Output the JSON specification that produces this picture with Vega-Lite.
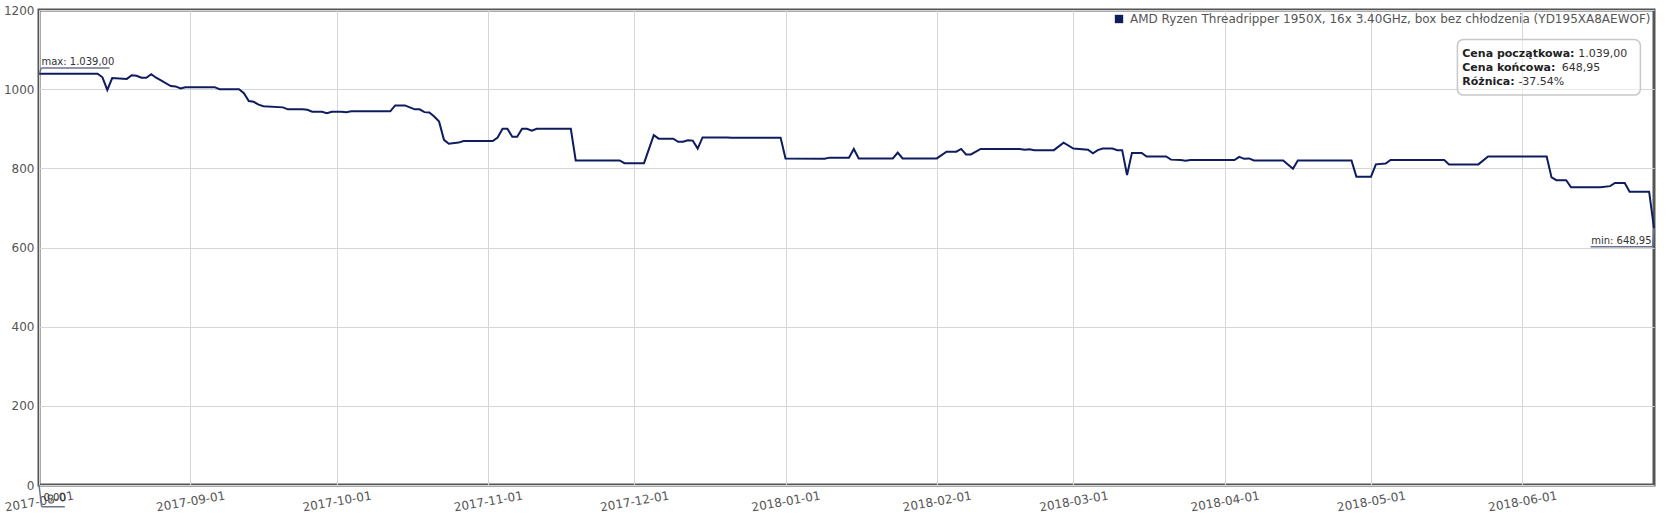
{
  "$schema": "https://vega.github.io/schema/vega-lite/v6.json",
  "width": 1615,
  "height": 475,
  "autosize": "none",
  "padding": {"left": 39, "top": 10, "right": 20, "bottom": 33},
  "background": "white",
  "datasets": {
    "prices": [
      {"date": "2017-08-01", "value": 1039},
      {"date": "2017-08-13", "value": 1039},
      {"date": "2017-08-14", "value": 1030},
      {"date": "2017-08-15", "value": 998},
      {"date": "2017-08-16", "value": 1028},
      {"date": "2017-08-19", "value": 1026},
      {"date": "2017-08-20", "value": 1035},
      {"date": "2017-08-21", "value": 1034},
      {"date": "2017-08-22", "value": 1029},
      {"date": "2017-08-23", "value": 1029},
      {"date": "2017-08-24", "value": 1038},
      {"date": "2017-08-25", "value": 1029},
      {"date": "2017-08-26", "value": 1022},
      {"date": "2017-08-28", "value": 1008},
      {"date": "2017-08-29", "value": 1007},
      {"date": "2017-08-30", "value": 1002},
      {"date": "2017-08-31", "value": 1005},
      {"date": "2017-09-06", "value": 1005},
      {"date": "2017-09-07", "value": 1000},
      {"date": "2017-09-11", "value": 1000},
      {"date": "2017-09-12", "value": 990},
      {"date": "2017-09-13", "value": 970},
      {"date": "2017-09-14", "value": 968},
      {"date": "2017-09-15", "value": 961},
      {"date": "2017-09-16", "value": 957},
      {"date": "2017-09-20", "value": 954},
      {"date": "2017-09-21", "value": 949},
      {"date": "2017-09-24", "value": 949},
      {"date": "2017-09-25", "value": 948},
      {"date": "2017-09-26", "value": 943},
      {"date": "2017-09-28", "value": 943},
      {"date": "2017-09-29", "value": 939},
      {"date": "2017-09-30", "value": 943},
      {"date": "2017-10-02", "value": 943},
      {"date": "2017-10-03", "value": 942},
      {"date": "2017-10-04", "value": 944},
      {"date": "2017-10-12", "value": 944},
      {"date": "2017-10-13", "value": 959},
      {"date": "2017-10-15", "value": 959},
      {"date": "2017-10-16", "value": 954},
      {"date": "2017-10-17", "value": 949},
      {"date": "2017-10-18", "value": 949},
      {"date": "2017-10-19", "value": 942},
      {"date": "2017-10-20", "value": 941},
      {"date": "2017-10-21", "value": 931},
      {"date": "2017-10-22", "value": 918},
      {"date": "2017-10-23", "value": 872},
      {"date": "2017-10-24", "value": 862},
      {"date": "2017-10-26", "value": 865},
      {"date": "2017-10-27", "value": 869},
      {"date": "2017-11-02", "value": 869},
      {"date": "2017-11-03", "value": 878},
      {"date": "2017-11-04", "value": 900},
      {"date": "2017-11-05", "value": 900},
      {"date": "2017-11-06", "value": 880},
      {"date": "2017-11-07", "value": 880},
      {"date": "2017-11-08", "value": 900},
      {"date": "2017-11-09", "value": 900},
      {"date": "2017-11-10", "value": 895},
      {"date": "2017-11-11", "value": 900},
      {"date": "2017-11-18", "value": 900},
      {"date": "2017-11-19", "value": 820},
      {"date": "2017-11-28", "value": 820},
      {"date": "2017-11-29", "value": 813},
      {"date": "2017-12-03", "value": 813},
      {"date": "2017-12-05", "value": 884},
      {"date": "2017-12-06", "value": 875},
      {"date": "2017-12-09", "value": 875},
      {"date": "2017-12-10", "value": 867},
      {"date": "2017-12-11", "value": 867},
      {"date": "2017-12-12", "value": 871},
      {"date": "2017-12-13", "value": 870},
      {"date": "2017-12-14", "value": 850},
      {"date": "2017-12-15", "value": 878},
      {"date": "2017-12-20", "value": 878},
      {"date": "2017-12-21", "value": 877},
      {"date": "2017-12-31", "value": 877},
      {"date": "2018-01-01", "value": 825},
      {"date": "2018-01-09", "value": 824},
      {"date": "2018-01-10", "value": 827},
      {"date": "2018-01-14", "value": 827},
      {"date": "2018-01-15", "value": 849},
      {"date": "2018-01-16", "value": 825},
      {"date": "2018-01-23", "value": 825},
      {"date": "2018-01-24", "value": 840},
      {"date": "2018-01-25", "value": 825},
      {"date": "2018-02-01", "value": 825},
      {"date": "2018-02-03", "value": 842},
      {"date": "2018-02-05", "value": 842},
      {"date": "2018-02-06", "value": 849},
      {"date": "2018-02-07", "value": 835},
      {"date": "2018-02-08", "value": 835},
      {"date": "2018-02-10", "value": 849},
      {"date": "2018-02-18", "value": 849},
      {"date": "2018-02-19", "value": 847},
      {"date": "2018-02-20", "value": 848},
      {"date": "2018-02-21", "value": 846},
      {"date": "2018-02-25", "value": 846},
      {"date": "2018-02-27", "value": 865},
      {"date": "2018-03-01", "value": 850},
      {"date": "2018-03-04", "value": 847},
      {"date": "2018-03-05", "value": 838},
      {"date": "2018-03-06", "value": 846},
      {"date": "2018-03-07", "value": 850},
      {"date": "2018-03-09", "value": 850},
      {"date": "2018-03-10", "value": 846},
      {"date": "2018-03-11", "value": 846},
      {"date": "2018-03-12", "value": 783},
      {"date": "2018-03-13", "value": 839},
      {"date": "2018-03-15", "value": 839},
      {"date": "2018-03-16", "value": 830},
      {"date": "2018-03-20", "value": 830},
      {"date": "2018-03-21", "value": 822},
      {"date": "2018-03-23", "value": 821},
      {"date": "2018-03-24", "value": 819},
      {"date": "2018-03-25", "value": 821},
      {"date": "2018-04-03", "value": 821},
      {"date": "2018-04-04", "value": 829},
      {"date": "2018-04-05", "value": 824},
      {"date": "2018-04-06", "value": 825},
      {"date": "2018-04-07", "value": 820},
      {"date": "2018-04-13", "value": 820},
      {"date": "2018-04-15", "value": 799},
      {"date": "2018-04-16", "value": 820},
      {"date": "2018-04-27", "value": 820},
      {"date": "2018-04-28", "value": 779},
      {"date": "2018-05-01", "value": 779},
      {"date": "2018-05-02", "value": 810},
      {"date": "2018-05-04", "value": 812},
      {"date": "2018-05-05", "value": 821},
      {"date": "2018-05-16", "value": 821},
      {"date": "2018-05-17", "value": 810},
      {"date": "2018-05-23", "value": 810},
      {"date": "2018-05-25", "value": 830},
      {"date": "2018-06-06", "value": 830},
      {"date": "2018-06-07", "value": 777},
      {"date": "2018-06-08", "value": 770},
      {"date": "2018-06-10", "value": 770},
      {"date": "2018-06-11", "value": 752},
      {"date": "2018-06-17", "value": 752},
      {"date": "2018-06-19", "value": 755},
      {"date": "2018-06-20", "value": 763},
      {"date": "2018-06-22", "value": 763},
      {"date": "2018-06-23", "value": 741},
      {"date": "2018-06-27", "value": 741},
      {"date": "2018-06-28", "value": 648.95}
    ],
    "markers": [
      {"date": "2017-08-01T02:00:00Z", "value": 1039, "date2": "2017-08-01T11:00:00Z", "value2": 1053.6},
      {"date": "2017-08-01T11:00:00Z", "value": 1053.6, "date2": "2017-08-15T11:00:00Z", "value2": 1053.6},
      {"date": "2018-06-28T00:00:00Z", "value": 648.95, "date2": "2018-06-27T17:00:00Z", "value2": 602},
      {"date": "2018-06-15T00:00:00Z", "value": 602, "date2": "2018-06-27T17:00:00Z", "value2": 602},
      {"date": "2017-08-01T00:00:00Z", "value": 0, "date2": "2017-08-01T13:00:00Z", "value2": -55},
      {"date": "2017-08-01T13:00:00Z", "value": -55, "date2": "2017-08-06T07:00:00Z", "value2": -55}
    ],
    "notesLeft": [
      {"date": "2017-08-01T12:00:00Z", "value": 1061, "label": "max: 1.039,00"},
      {"date": "2017-08-01T22:00:00Z", "value": -40, "label": "0,00"}
    ],
    "notesRight": [
      {"date": "2018-06-27T12:00:00Z", "value": 610, "label": "min: 648,95"}
    ],
    "box": [
      {"date": "2018-05-18T17:00:00Z", "date2": "2018-06-25T05:00:00Z", "value": 985, "value2": 1125.6}
    ],
    "boxLabels": [
      {"date": "2018-05-19T17:00:00Z", "value": 1081, "label": "Cena początkowa:"},
      {"date": "2018-05-19T17:00:00Z", "value": 1046, "label": "Cena końcowa:"},
      {"date": "2018-05-19T17:00:00Z", "value": 1010.6, "label": "Różnica:"}
    ],
    "boxValues": [
      {"date": "2018-06-12T12:00:00Z", "value": 1081, "label": "1.039,00"},
      {"date": "2018-06-09T02:00:00Z", "value": 1046, "label": "648,95"},
      {"date": "2018-05-31T05:00:00Z", "value": 1010.6, "label": "-37.54%"}
    ]
  },
  "encoding": {
    "x": {
      "field": "date",
      "type": "temporal",
      "scale": {
        "type": "utc",
        "domain": [
          {"year": 2017, "month": 8, "date": 1, "utc": true},
          {"year": 2018, "month": 6, "date": 28, "utc": true}
        ]
      },
      "axis": {
        "title": null,
        "format": "%Y-%m-%d",
        "values": [
          {"year": 2017, "month": 8, "date": 1, "utc": true},
          {"year": 2017, "month": 9, "date": 1, "utc": true},
          {"year": 2017, "month": 10, "date": 1, "utc": true},
          {"year": 2017, "month": 11, "date": 1, "utc": true},
          {"year": 2017, "month": 12, "date": 1, "utc": true},
          {"year": 2018, "month": 1, "date": 1, "utc": true},
          {"year": 2018, "month": 2, "date": 1, "utc": true},
          {"year": 2018, "month": 3, "date": 1, "utc": true},
          {"year": 2018, "month": 4, "date": 1, "utc": true},
          {"year": 2018, "month": 5, "date": 1, "utc": true},
          {"year": 2018, "month": 6, "date": 1, "utc": true}
        ],
        "labelAngle": -10,
        "labelAlign": "center",
        "labelBaseline": "middle",
        "labelPadding": 16,
        "labelOverlap": false,
        "labelBound": false,
        "labelFlush": false
      }
    },
    "y": {
      "field": "value",
      "type": "quantitative",
      "scale": {"domain": [0, 1200], "nice": false, "zero": false},
      "axis": {
        "title": null,
        "format": "d",
        "values": [0, 200, 400, 600, 800, 1000, 1200],
        "labelPadding": 5
      }
    }
  },
  "layer": [
    {
      "data": {"name": "box"},
      "mark": {
        "type": "rect",
        "fill": "white",
        "fillOpacity": 0.5,
        "stroke": "#c8c8c8",
        "strokeWidth": 1.5,
        "cornerRadius": 6
      },
      "encoding": {
        "x2": {"field": "date2"},
        "y2": {"field": "value2"}
      }
    },
    {
      "data": {"name": "prices"},
      "mark": {"type": "line", "strokeWidth": 2, "interpolate": "linear"},
      "encoding": {
        "color": {
          "datum": "AMD Ryzen Threadripper 1950X, 16x 3.40GHz, box bez chłodzenia (YD195XA8AEWOF)",
          "type": "nominal",
          "scale": {"range": ["#0f1c5e"]},
          "legend": {
            "title": null,
            "orient": "top-right",
            "offset": 3,
            "padding": 0,
            "symbolType": "square",
            "symbolSize": 70,
            "symbolFillColor": "#0f1c5e",
            "symbolStrokeWidth": 0,
            "labelOffset": 5,
            "labelFont": "DejaVu Sans",
            "labelFontSize": 12,
            "labelColor": "#555555",
            "labelLimit": 0
          }
        }
      }
    },
    {
      "data": {"name": "markers"},
      "mark": {"type": "rule", "color": "#6b7290", "strokeWidth": 1.5},
      "encoding": {
        "x2": {"field": "date2"},
        "y2": {"field": "value2"}
      }
    },
    {
      "data": {"name": "notesLeft"},
      "mark": {"type": "text", "align": "left", "baseline": "alphabetic", "fontSize": 10, "color": "#333333"},
      "encoding": {"text": {"field": "label"}}
    },
    {
      "data": {"name": "notesRight"},
      "mark": {"type": "text", "align": "right", "baseline": "alphabetic", "fontSize": 10, "color": "#333333"},
      "encoding": {"text": {"field": "label"}}
    },
    {
      "data": {"name": "boxLabels"},
      "mark": {"type": "text", "align": "left", "baseline": "alphabetic", "fontSize": 11, "fontWeight": "bold", "color": "#222222"},
      "encoding": {"text": {"field": "label"}}
    },
    {
      "data": {"name": "boxValues"},
      "mark": {"type": "text", "align": "left", "baseline": "alphabetic", "fontSize": 11, "color": "#333333"},
      "encoding": {"text": {"field": "label"}}
    }
  ],
  "config": {
    "font": "DejaVu Sans",
    "view": {"stroke": "#555555", "strokeWidth": 3},
    "axis": {
      "ticks": false,
      "domain": false,
      "grid": true,
      "gridColor": "#d6d6d6",
      "gridWidth": 1,
      "labelFont": "DejaVu Sans",
      "labelFontSize": 12,
      "labelColor": "#555555"
    }
  }
}
